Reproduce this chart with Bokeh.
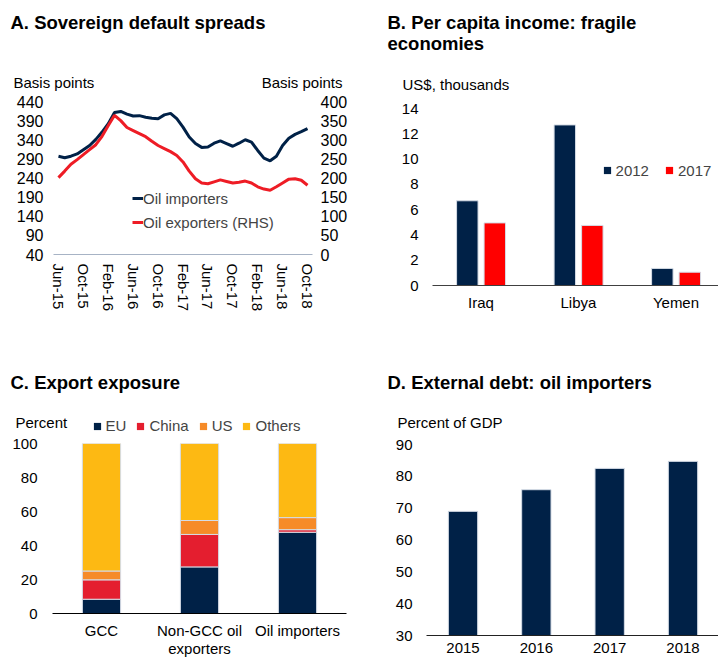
from bokeh.plotting import figure
from bokeh.models import (Range1d, LinearAxis, Label, Legend, LegendItem,
                          FixedTicker, ColumnDataSource)
from bokeh.layouts import column, row
from bokeh.embed import file_html
from bokeh.resources import INLINE

FONT = "Liberation Sans"
NAVY = "#002147"
RED_LINE = "#EE1C25"
RED_BAR = "#FF0000"
EDGE = "#D5DCE6"

# ---------------- Panel A data ----------------
a_tick_labels = ["Jun-15", "Oct-15", "Feb-16", "Jun-16", "Oct-16", "Feb-17",
                 "Jun-17", "Oct-17", "Feb-18", "Jun-18", "Oct-18"]
oil_importers = [297, 293, 297, 303, 314, 325, 341, 360, 382, 411, 414, 407,
                 402, 403, 399, 396, 395, 405, 409, 395, 373, 347, 330, 320,
                 321, 331, 337, 330, 323, 331, 340, 334, 312, 292, 285, 297,
                 325, 344, 354, 361, 369]
oil_exporters = [201, 218, 236, 248, 261, 274, 287, 309, 337, 364, 350, 332,
                 324, 316, 308, 296, 285, 277, 269, 259, 242, 218, 198, 187,
                 185, 190, 195, 191, 187, 189, 192, 187, 177, 171, 168, 177,
                 187, 197, 198, 194, 181]
a_left_ticks = [40, 90, 140, 190, 240, 290, 340, 390, 440]
a_right_ticks = [0, 50, 100, 150, 200, 250, 300, 350, 400]

# ---------------- Panel B data ----------------
b_countries = ["Iraq", "Libya", "Yemen"]
income_2012 = [6.7, 12.7, 1.35]
income_2017 = [4.95, 4.75, 1.05]
b_ticks = [0, 2, 4, 6, 8, 10, 12, 14]

# ---------------- Panel C data ----------------
c_groups = ["GCC", "Non-GCC oil\nexporters", "Oil importers"]
exp_eu = [8.4, 27.4, 47.8]
exp_china = [11.4, 19.1, 1.5]
exp_us = [5.2, 8.2, 7.1]
exp_others = [75.0, 45.3, 43.6]
c_series = ["EU", "China", "US", "Others"]
c_colors = ["#002147", "#E41E2F", "#F68B28", "#FDB913"]
c_ticks = [0, 20, 40, 60, 80, 100]

# ---------------- Panel D data ----------------
d_years = ["2015", "2016", "2017", "2018"]
ext_debt = [69.0, 75.8, 82.5, 84.7]
d_ticks = [30, 40, 50, 60, 70, 80, 90]


def style_axis(ax, size="15px", standoff=8, line_color=None):
    ax.major_tick_line_color = None
    ax.minor_tick_line_color = None
    ax.major_tick_out = 0
    ax.major_tick_in = 0
    ax.minor_tick_out = 0
    ax.minor_tick_in = 0
    ax.axis_line_color = line_color
    ax.axis_line_width = 1
    ax.major_label_text_font = FONT
    ax.major_label_text_font_size = size
    ax.major_label_text_color = "black"
    ax.major_label_standoff = standoff


def base_fig(w, h, xr, yr, bl, br, bt, bb, axes=True):
    kw = {} if axes else dict(x_axis_type=None, y_axis_type=None)
    p = figure(width=w, height=h, x_range=xr, y_range=yr,
               output_backend="svg", toolbar_location=None,
               min_border_left=bl, min_border_right=br,
               min_border_top=bt, min_border_bottom=bb, **kw)
    p.outline_line_color = None
    p.grid.visible = False
    p.background_fill_color = "white"
    p.border_fill_color = "white"
    return p


def txt(p, h, x, y_from_top, text, size="15px", bold=False, align="left"):
    # header figures: frame == canvas; position given from the canvas top
    p.add_layout(Label(x=x, y=h - y_from_top, x_units="screen", y_units="screen",
                       text=text, text_font=FONT, text_font_size=size,
                       text_font_style="bold" if bold else "normal",
                       text_align=align, text_baseline="alphabetic",
                       text_color="black"))


def legend(items, loc, orientation, spacing, glyph_width):
    return Legend(items=items, location=loc, orientation=orientation,
                  glyph_width=glyph_width, glyph_height=18, label_height=18,
                  spacing=spacing, padding=0, margin=0, label_standoff=0,
                  border_line_color=None, background_fill_alpha=0,
                  label_text_font=FONT, label_text_font_size="15px")


# ================= Header of the top row =================
H1 = 94
h1 = base_fig(718, H1, Range1d(0, 718), Range1d(0, H1), 0, 0, 0, 0, axes=False)
txt(h1, H1, 10, 21.5, "A. Sovereign default spreads", size="18.5px", bold=True)
txt(h1, H1, 13, 82, "Basis points")
txt(h1, H1, 342, 82, "Basis points", align="right")
txt(h1, H1, 387, 21.5, "B. Per capita income: fragile", size="18.5px", bold=True)
txt(h1, H1, 387, 43, "economies", size="18.5px", bold=True)
txt(h1, H1, 402, 84, "US$, thousands")

# ================= Panel A =================
axr = Range1d(-0.8, 40.8)
ayr = Range1d(40, 440)
pa = base_fig(363, 366 - H1, axr, ayr, 53, 51, 101 - H1, 112)
pa.extra_y_ranges = {"rhs": Range1d(0, 400)}
months = list(range(len(oil_importers)))
r_imp = pa.line(months, oil_importers, line_color=NAVY, line_width=3)
r_exp = pa.line(months, oil_exporters, line_color=RED_LINE, line_width=3,
                y_range_name="rhs")
rax = LinearAxis(y_range_name="rhs")
pa.add_layout(rax, "right")
style_axis(pa.yaxis[0], size="16px", standoff=10)
style_axis(rax, size="16px", standoff=8)
pa.yaxis[0].ticker = FixedTicker(ticks=a_left_ticks)
rax.ticker = FixedTicker(ticks=a_right_ticks)
xa = pa.xaxis[0]
style_axis(xa, size="15px", standoff=9, line_color="#A7B3C5")
a_tick_pos = list(range(0, len(oil_importers), 4))
xa.ticker = FixedTicker(ticks=a_tick_pos)
xa.major_label_overrides = {t: lab for t, lab in zip(a_tick_pos, a_tick_labels)}
xa.major_label_orientation = "vertical"
pa.add_layout(legend([LegendItem(label="Oil importers", renderers=[r_imp]),
                      LegendItem(label="Oil exporters (RHS)", renderers=[r_exp])],
                     (79, 23), "vertical", 6, 11))

# ================= Panel B =================
bxr = Range1d(-0.497, 2.436)
byr = Range1d(0, 14)
pb = base_fig(355, 366 - H1, bxr, byr, 69, 0, 108 - H1, 81)
bx = list(range(len(b_countries)))
pb.vbar(x=[v - 0.14 for v in bx], top=income_2012, width=0.22, bottom=0,
        fill_color=NAVY, line_color=EDGE, line_width=1)
pb.vbar(x=[v + 0.142 for v in bx], top=income_2017, width=0.22, bottom=0,
        fill_color=RED_BAR, line_color=EDGE, line_width=1)
style_axis(pb.yaxis[0], standoff=14)
pb.yaxis[0].ticker = FixedTicker(ticks=b_ticks)
style_axis(pb.xaxis[0], standoff=8, line_color="#404040")
pb.xaxis[0].ticker = FixedTicker(ticks=bx)
pb.xaxis[0].major_label_overrides = {t: lab for t, lab in zip(bx, b_countries)}
# legend proxies (zero-size markers on the first data point)
lb1 = pb.scatter(x=bx[:1], y=income_2012[:1], size=0, marker="square",
                 fill_color=NAVY, line_color=None)
lb2 = pb.scatter(x=bx[:1], y=income_2017[:1], size=0, marker="square",
                 fill_color=RED_BAR, line_color=None)
pb.add_layout(legend([LegendItem(label="2012", renderers=[lb1]),
                      LegendItem(label="2017", renderers=[lb2])],
                     (165.6, 106), "horizontal", 11, 18))

# ================= Header of the bottom row =================
H2 = 70
TOP2 = 366
h2 = base_fig(718, H2, Range1d(0, 718), Range1d(0, H2), 0, 0, 0, 0, axes=False)
txt(h2, H2, 10, 381.5 - TOP2, "C. Export exposure", size="18.5px", bold=True)
txt(h2, H2, 15, 422 - TOP2, "Percent")
txt(h2, H2, 387, 381.5 - TOP2, "D. External debt: oil importers", size="18.5px", bold=True)
txt(h2, H2, 397, 422 - TOP2, "Percent of GDP")
c_items = []
for name, col, vals in zip(c_series, c_colors, [exp_eu, exp_china, exp_us, exp_others]):
    rr = h2.scatter(x=[0], y=vals[:1], size=0, marker="square",
                    fill_color=col, line_color=None)
    c_items.append(LegendItem(label=name, renderers=[rr]))
h2.add_layout(legend(c_items, (87.6, H2 - (434.7 - TOP2)), "horizontal", 5, 18))

# ================= Panel C =================
TOP3 = TOP2 + H2
cxr = Range1d(-0.5, 2.5)
cyr = Range1d(0, 100)
pc = base_fig(363, 659 - TOP3, cxr, cyr, 52, 17, 443 - TOP3, 659 - 618)
cx = list(range(len(c_groups)))
csrc = ColumnDataSource(dict(x=cx, EU=exp_eu, China=exp_china, US=exp_us,
                             Others=exp_others))
pc.vbar_stack(c_series, x="x", width=0.39, source=csrc,
              fill_color=c_colors, line_color=EDGE, line_width=1)
style_axis(pc.yaxis[0], standoff=15)
pc.yaxis[0].ticker = FixedTicker(ticks=c_ticks)
style_axis(pc.xaxis[0], standoff=8, line_color="black")
pc.xaxis[0].ticker = FixedTicker(ticks=cx)
pc.xaxis[0].major_label_overrides = {t: lab for t, lab in zip(cx, c_groups)}
pc.xaxis[0].major_label_text_line_height = 1.07

# ================= Panel D =================
dxr = Range1d(-0.498, 3.484)
dyr = Range1d(30, 90)
pd_ = base_fig(355, 659 - TOP3, dxr, dyr, 63, 0, 444 - TOP3, 24)
dx = list(range(len(d_years)))
pd_.vbar(x=dx, top=ext_debt, width=0.40, bottom=30, fill_color=NAVY,
         line_color=EDGE, line_width=1)
style_axis(pd_.yaxis[0], standoff=14)
pd_.yaxis[0].ticker = FixedTicker(ticks=d_ticks)
style_axis(pd_.xaxis[0], standoff=7, line_color="#222222")
pd_.xaxis[0].ticker = FixedTicker(ticks=dx)
pd_.xaxis[0].major_label_overrides = {t: lab for t, lab in zip(dx, d_years)}

layout = column(column(h1),
                row(column(pa), column(pb)),
                column(h2),
                row(column(pc), column(pd_)))
open("out.html", "w").write(file_html(layout, INLINE))
